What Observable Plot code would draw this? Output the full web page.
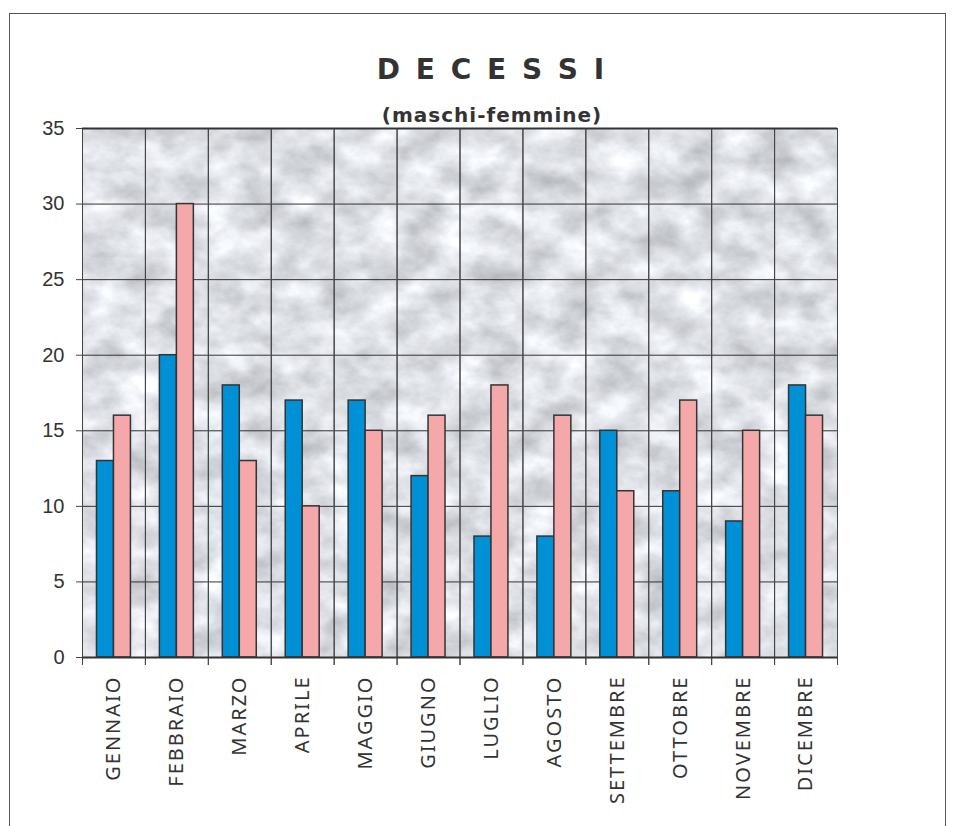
<!DOCTYPE html>
<html><head><meta charset="utf-8">
<script src="https://cdn.jsdelivr.net/npm/d3@7"></script>
<script src="https://cdn.jsdelivr.net/npm/@observablehq/plot@0.6"></script>
<style>
body{margin:0;background:#fff;width:957px;height:826px;overflow:hidden;position:relative;font-family:"DejaVu Sans",sans-serif}
#border{position:absolute;left:9px;top:13px;width:935px;height:900px;border:1.5px solid #555;}
#title{position:absolute;left:0;width:984px;top:53px;text-align:center;font-weight:bold;font-size:28px;letter-spacing:3px;color:#333;}
#subtitle{position:absolute;left:0;width:984px;top:103px;text-align:center;font-weight:bold;font-size:20px;letter-spacing:1px;color:#333;}
#chart{position:absolute;left:0;top:0}
</style></head>
<body>
<div id="border"></div>
<div id="chart"></div>
<div id="title">D E C E S S I</div>
<div id="subtitle">(maschi-femmine)</div>
<script>
const months = ["GENNAIO","FEBBRAIO","MARZO","APRILE","MAGGIO","GIUGNO","LUGLIO","AGOSTO","SETTEMBRE","OTTOBRE","NOVEMBRE","DICEMBRE"];
const maschi = [13,20,18,17,17,12,8,8,15,11,9,18];
const femmine = [16,30,13,10,15,16,18,16,11,17,15,16];
const series = ["maschi","femmine"];
const seriesColors = ["#0090d6","#f5a8aa"];
const yTicks = [0,5,10,15,20,25,30,35];

const data = months.flatMap((m,i)=>[
  {month:m, sex:"maschi", value:maschi[i]},
  {month:m, sex:"femmine", value:femmine[i]}
]);

const bgFill = "#e0e1e4";
const chart = Plot.plot({
  width:957, height:826,
  marginLeft:82, marginRight:120, marginTop:128, marginBottom:169,
  style:{background:"transparent"},
  fx:{domain:months, padding:0, round:false, label:null},
  x:{domain:series, paddingInner:0, paddingOuter:0.853, round:false, axis:null},
  y:{domain:[0,35], ticks:yTicks, label:null},
  color:{domain:series, range:seriesColors},
  marks:[
    Plot.frame({fill:bgFill, stroke:null, facet:"super"}),
    Plot.gridY(yTicks,{stroke:"#333", strokeOpacity:1, strokeWidth:1}),
    Plot.frame({anchor:"left", stroke:"#444", strokeWidth:1, insetBottom:-7}),
    Plot.frame({anchor:"right", stroke:"#444", strokeWidth:1, insetBottom:-7}),
    Plot.barY(data,{fx:"month", x:"sex", y:"value", fill:"sex", stroke:"#333", strokeWidth:1.5}),
    Plot.ruleY([0,35],{stroke:"#333", strokeWidth:2}),
    Plot.axisY(yTicks,{tickSize:6, tickPadding:12, fontSize:20, fontFamily:"Liberation Sans", fill:"#333", stroke:"#444", label:null}),
    Plot.axisFx({anchor:"bottom", tickRotate:-90, tickSize:0, tickPadding:18, fontSize:20, fill:"#333", label:null})
  ]
});

// marble-like texture for the plot background
const ns = "http://www.w3.org/2000/svg";
const defs = document.createElementNS(ns, "defs");
defs.innerHTML = `<filter id="marble" x="0" y="0" width="100%" height="100%" color-interpolation-filters="sRGB">
  <feTurbulence type="fractalNoise" baseFrequency="0.025 0.035" numOctaves="5" seed="7" result="n"/>
  <feColorMatrix in="n" type="matrix" values="0.4 0 0 0 0.67  0.4 0 0 0 0.68  0.4 0 0 0 0.7  0 0 0 0 1" result="g"/>
  <feComposite in="g" in2="SourceGraphic" operator="in"/>
</filter>`;
chart.insertBefore(defs, chart.firstChild);
chart.querySelectorAll(`[fill="${bgFill}"]`).forEach(el => el.setAttribute("filter","url(#marble)"));
chart.querySelectorAll('g[aria-label="fx-axis tick label"] text').forEach(t => t.style.letterSpacing = "2px");
document.getElementById("chart").appendChild(chart);
</script>
</body></html>
